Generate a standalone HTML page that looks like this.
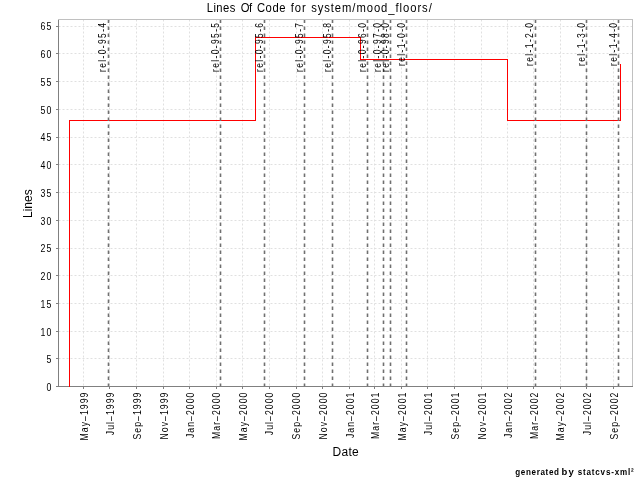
<!DOCTYPE html>
<html><head><meta charset="utf-8"><style>
html,body{margin:0;padding:0;background:#fff;width:640px;height:480px;overflow:hidden}
svg{display:block}
text{font-family:"Liberation Sans",sans-serif;fill:#000}
.g{filter:grayscale(1)}
</style></head><body>
<svg width="640" height="480" viewBox="0 0 640 480">
<rect width="640" height="480" fill="#fff"/>
<path d="M83.5 19.5V386M109.5 19.5V386M136.5 19.5V386M163.5 19.5V386M189.5 19.5V386M216.5 19.5V386M242.5 19.5V386M269.5 19.5V386M296.5 19.5V386M322.5 19.5V386M349.5 19.5V386M374.5 19.5V386M401.5 19.5V386M427.5 19.5V386M454.5 19.5V386M481.5 19.5V386M507.5 19.5V386M533.5 19.5V386M560.5 19.5V386M586.5 19.5V386M613.5 19.5V386M58.5 358.5H632M58.5 331.5H632M58.5 303.5H632M58.5 275.5H632M58.5 248.5H632M58.5 220.5H632M58.5 192.5H632M58.5 164.5H632M58.5 137.5H632M58.5 109.5H632M58.5 81.5H632M58.5 53.5H632M58.5 26.5H632" stroke="#e0e0e0" stroke-width="1" stroke-dasharray="2 2" fill="none"/>
<path d="M58.5 19V386.5M58 386.5H633M56 386.5H58M56 358.5H58M56 331.5H58M56 303.5H58M56 275.5H58M56 248.5H58M56 220.5H58M56 192.5H58M56 164.5H58M56 137.5H58M56 109.5H58M56 81.5H58M56 53.5H58M56 26.5H58M83.5 387V389M109.5 387V389M136.5 387V389M163.5 387V389M189.5 387V389M216.5 387V389M242.5 387V389M269.5 387V389M296.5 387V389M322.5 387V389M349.5 387V389M374.5 387V389M401.5 387V389M427.5 387V389M454.5 387V389M481.5 387V389M507.5 387V389M533.5 387V389M560.5 387V389M586.5 387V389M613.5 387V389" stroke="#808080" stroke-width="1" fill="none" shape-rendering="crispEdges"/>
<path d="M69.5 387V120.5H255.5V37.5H360.5V59.5H507.5V120.5H620.5V64" stroke="#f00" stroke-width="1" fill="none" shape-rendering="crispEdges"/>
<path d="M108.5 19.5V386M220.5 19.5V386M264.5 19.5V386M304.5 19.5V386M332.5 19.5V386M367.5 19.5V386M383.5 19.5V386M390.5 19.5V386M406.5 19.5V386M535.5 19.5V386M586.5 19.5V386M618.5 19.5V386" stroke="#707070" stroke-width="1.6" stroke-dasharray="3.5 3.5" fill="none"/>
<g class="g">
<text transform="translate(106 71.99) rotate(-90) scale(0.85 1)" font-size="10" letter-spacing="1.6">rel-0-95-4</text>
<text transform="translate(219.2 71.99) rotate(-90) scale(0.85 1)" font-size="10" letter-spacing="1.6">rel-0-95-5</text>
<text transform="translate(263 71.99) rotate(-90) scale(0.85 1)" font-size="10" letter-spacing="1.6">rel-0-95-6</text>
<text transform="translate(303 71.99) rotate(-90) scale(0.85 1)" font-size="10" letter-spacing="1.6">rel-0-95-7</text>
<text transform="translate(331 71.99) rotate(-90) scale(0.85 1)" font-size="10" letter-spacing="1.6">rel-0-95-8</text>
<text transform="translate(366 71.99) rotate(-90) scale(0.85 1)" font-size="10" letter-spacing="1.6">rel-0-96-0</text>
<text transform="translate(381 71.99) rotate(-90) scale(0.85 1)" font-size="10" letter-spacing="1.6">rel-0-97-0</text>
<text transform="translate(389 71.99) rotate(-90) scale(0.85 1)" font-size="10" letter-spacing="1.6">rel-0-98-0</text>
<text transform="translate(405 65.90) rotate(-90) scale(0.85 1)" font-size="10" letter-spacing="1.6">rel-1-0-0</text>
<text transform="translate(533 65.90) rotate(-90) scale(0.85 1)" font-size="10" letter-spacing="1.6">rel-1-2-0</text>
<text transform="translate(585.25 65.90) rotate(-90) scale(0.85 1)" font-size="10" letter-spacing="1.6">rel-1-3-0</text>
<text transform="translate(617 65.90) rotate(-90) scale(0.85 1)" font-size="10" letter-spacing="1.6">rel-1-4-0</text>
</g>
<path d="M58 19.5H632.5V386" stroke="#c0c0c0" stroke-width="1" fill="none" shape-rendering="crispEdges"/>
<g class="g">
<text transform="translate(52.5 390.6) scale(0.8 1)" text-anchor="end" font-size="11" letter-spacing="1.38">0</text>
<text transform="translate(52.5 362.6) scale(0.8 1)" text-anchor="end" font-size="11" letter-spacing="1.38">5</text>
<text transform="translate(52.5 335.6) scale(0.8 1)" text-anchor="end" font-size="11" letter-spacing="1.38">10</text>
<text transform="translate(52.5 307.6) scale(0.8 1)" text-anchor="end" font-size="11" letter-spacing="1.38">15</text>
<text transform="translate(52.5 279.6) scale(0.8 1)" text-anchor="end" font-size="11" letter-spacing="1.38">20</text>
<text transform="translate(52.5 251.6) scale(0.8 1)" text-anchor="end" font-size="11" letter-spacing="1.38">25</text>
<text transform="translate(52.5 224.6) scale(0.8 1)" text-anchor="end" font-size="11" letter-spacing="1.38">30</text>
<text transform="translate(52.5 196.6) scale(0.8 1)" text-anchor="end" font-size="11" letter-spacing="1.38">35</text>
<text transform="translate(52.5 168.6) scale(0.8 1)" text-anchor="end" font-size="11" letter-spacing="1.38">40</text>
<text transform="translate(52.5 140.6) scale(0.8 1)" text-anchor="end" font-size="11" letter-spacing="1.38">45</text>
<text transform="translate(52.5 113.6) scale(0.8 1)" text-anchor="end" font-size="11" letter-spacing="1.38">50</text>
<text transform="translate(52.5 85.6) scale(0.8 1)" text-anchor="end" font-size="11" letter-spacing="1.38">55</text>
<text transform="translate(52.5 57.6) scale(0.8 1)" text-anchor="end" font-size="11" letter-spacing="1.38">60</text>
<text transform="translate(52.5 29.6) scale(0.8 1)" text-anchor="end" font-size="11" letter-spacing="1.38">65</text>
<text transform="translate(88.3 391.65) rotate(-90) scale(0.84 1)" text-anchor="end" font-size="10.3" letter-spacing="1.25">May–1999</text>
<text transform="translate(114.3 391.65) rotate(-90) scale(0.84 1)" text-anchor="end" font-size="10.3" letter-spacing="1.25">Jul–1999</text>
<text transform="translate(141.3 391.65) rotate(-90) scale(0.84 1)" text-anchor="end" font-size="10.3" letter-spacing="1.25">Sep–1999</text>
<text transform="translate(168.3 391.65) rotate(-90) scale(0.84 1)" text-anchor="end" font-size="10.3" letter-spacing="1.25">Nov–1999</text>
<text transform="translate(194.3 391.65) rotate(-90) scale(0.84 1)" text-anchor="end" font-size="10.3" letter-spacing="1.25">Jan–2000</text>
<text transform="translate(220.3 391.65) rotate(-90) scale(0.84 1)" text-anchor="end" font-size="10.3" letter-spacing="1.25">Mar–2000</text>
<text transform="translate(247.3 391.65) rotate(-90) scale(0.84 1)" text-anchor="end" font-size="10.3" letter-spacing="1.25">May–2000</text>
<text transform="translate(273.3 391.65) rotate(-90) scale(0.84 1)" text-anchor="end" font-size="10.3" letter-spacing="1.25">Jul–2000</text>
<text transform="translate(300.3 391.65) rotate(-90) scale(0.84 1)" text-anchor="end" font-size="10.3" letter-spacing="1.25">Sep–2000</text>
<text transform="translate(327.3 391.65) rotate(-90) scale(0.84 1)" text-anchor="end" font-size="10.3" letter-spacing="1.25">Nov–2000</text>
<text transform="translate(354.3 391.65) rotate(-90) scale(0.84 1)" text-anchor="end" font-size="10.3" letter-spacing="1.25">Jan–2001</text>
<text transform="translate(379.3 391.65) rotate(-90) scale(0.84 1)" text-anchor="end" font-size="10.3" letter-spacing="1.25">Mar–2001</text>
<text transform="translate(406.3 391.65) rotate(-90) scale(0.84 1)" text-anchor="end" font-size="10.3" letter-spacing="1.25">May–2001</text>
<text transform="translate(432.3 391.65) rotate(-90) scale(0.84 1)" text-anchor="end" font-size="10.3" letter-spacing="1.25">Jul–2001</text>
<text transform="translate(459.3 391.65) rotate(-90) scale(0.84 1)" text-anchor="end" font-size="10.3" letter-spacing="1.25">Sep–2001</text>
<text transform="translate(486.3 391.65) rotate(-90) scale(0.84 1)" text-anchor="end" font-size="10.3" letter-spacing="1.25">Nov–2001</text>
<text transform="translate(512.3 391.65) rotate(-90) scale(0.84 1)" text-anchor="end" font-size="10.3" letter-spacing="1.25">Jan–2002</text>
<text transform="translate(538.3 391.65) rotate(-90) scale(0.84 1)" text-anchor="end" font-size="10.3" letter-spacing="1.25">Mar–2002</text>
<text transform="translate(564.3 391.65) rotate(-90) scale(0.84 1)" text-anchor="end" font-size="10.3" letter-spacing="1.25">May–2002</text>
<text transform="translate(591.3 391.65) rotate(-90) scale(0.84 1)" text-anchor="end" font-size="10.3" letter-spacing="1.25">Jul–2002</text>
<text transform="translate(618.3 391.65) rotate(-90) scale(0.84 1)" text-anchor="end" font-size="10.3" letter-spacing="1.25">Sep–2002</text>
<text transform="translate(206.80 12) scale(0.9 1)" font-size="12.5" textLength="31.69" lengthAdjust="spacing">Lines</text>
<text transform="translate(240.66 12) scale(0.9 1)" font-size="12.5" textLength="12.75" lengthAdjust="spacing">Of</text>
<text transform="translate(256.96 12) scale(0.9 1)" font-size="12.5" textLength="31.66" lengthAdjust="spacing">Code</text>
<text transform="translate(290.73 12) scale(0.9 1)" font-size="12.5" textLength="16.58" lengthAdjust="spacing">for</text>
<text transform="translate(311.14 12) scale(0.9 1)" font-size="12.5" textLength="134.04" lengthAdjust="spacing">system/mood_floors/</text>
<text transform="translate(32 203.7) rotate(-90)" text-anchor="middle" font-size="12">Lines</text>
<text x="345.8" y="456" text-anchor="middle" font-size="12" letter-spacing="0.25">Date</text>
<text transform="translate(515.30 475) scale(0.85 1)" font-size="9.5" font-weight="bold" textLength="51.41" lengthAdjust="spacing">generated</text>
<text transform="translate(561.50 475) scale(1.0 1)" font-size="9.5" font-weight="bold" textLength="12.30" lengthAdjust="spacing">by</text>
<text transform="translate(577.70 475) scale(0.85 1)" font-size="9.5" font-weight="bold" textLength="65.88" lengthAdjust="spacing">statcvs-xml²</text>
</g>
</svg></body></html>
